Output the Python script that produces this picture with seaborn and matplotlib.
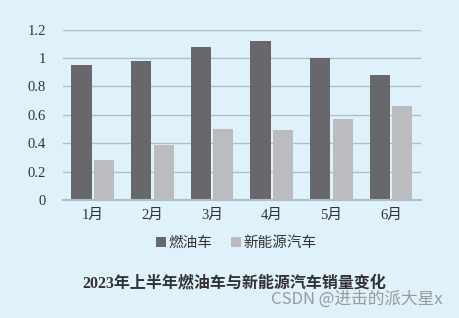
import matplotlib
matplotlib.use("Agg")
import matplotlib.pyplot as plt
import seaborn as sns
import pandas as pd

months = ["1月", "2月", "3月", "4月", "5月", "6月"]
fuel_cars = [0.95, 0.98, 1.08, 1.12, 1.00, 0.88]
nev_cars = [0.28, 0.39, 0.50, 0.49, 0.57, 0.66]
series_names = ["燃油车", "新能源汽车"]
title_text = "2023年上半年燃油车与新能源汽车销量变化"
yticks = [0, 0.2, 0.4, 0.6, 0.8, 1.0, 1.2]
ytick_labels = ["0", "0.2", "0.4", "0.6", "0.8", "1", "1.2"]

df = pd.DataFrame({
    "month": months * 2,
    "value": fuel_cars + nev_cars,
    "series": [series_names[0]] * len(months) + [series_names[1]] * len(months),
})

sns.set_theme(style="white")
fams = ["Liberation Serif", "Noto Sans CJK SC", "DejaVu Sans"]
plt.rcParams["font.family"] = fams

bg = "#dff1fa"
fig = plt.figure(figsize=(4.59, 3.18), dpi=100, facecolor=bg)
ax = fig.add_axes([0.137, 0.371, 0.78, 0.536])
ax.set_facecolor(bg)

sns.barplot(data=df, x="month", y="value", hue="series", ax=ax,
            palette=["#68686c", "#bcbcc0"], width=0.75, gap=0.1,
            saturation=1, legend=True, zorder=3, linewidth=0, edgecolor="none")

ax.set_ylim(0, 1.2)
ax.set_yticks(yticks)
ax.set_yticklabels(ytick_labels)
ax.yaxis.grid(True, color="#adbfc8", linewidth=1.0, zorder=0)
ax.set_axisbelow(True)
for s in ["top", "right", "left"]:
    ax.spines[s].set_visible(False)
ax.spines["bottom"].set_color("#adbfc8")
ax.spines["bottom"].set_linewidth(1.5)
ax.spines["bottom"].set_zorder(4)
ax.tick_params(axis="both", length=0, labelsize=10.5, colors="#333333")
ax.tick_params(axis="y", pad=12)
ax.tick_params(axis="x", pad=6)
ax.set_xlabel("")
ax.set_ylabel("")

handles, labels = ax.get_legend_handles_labels()
ax.get_legend().remove()
fig.legend(handles, labels, loc="center", bbox_to_anchor=(0.515, 0.235), ncol=2,
           frameon=False, fontsize=10.5, handlelength=0.7, handleheight=0.7,
           handletextpad=0.15, columnspacing=1.3, labelcolor="#333333")

fig.text(0.51, 0.11, title_text, ha="center", va="center", fontsize=11.5,
         color="#333333", fontweight="semibold")
fig.text(0.965, 0.06, "CSDN @进击的派大星x", ha="right", va="center", fontsize=12,
         color="#9a9a9a", family=["Noto Sans CJK SC", "DejaVu Sans"])

fig.savefig("out.png", dpi=100, facecolor=bg)
